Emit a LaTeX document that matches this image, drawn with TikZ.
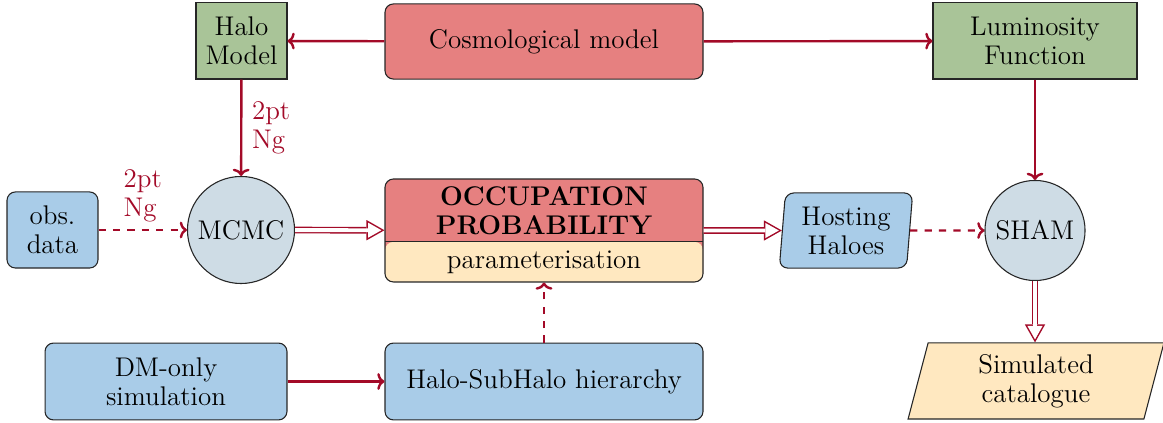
\documentclass[tikz,border=0pt]{standalone}
\usetikzlibrary{shapes.geometric,arrows.meta}
\definecolor{cred}{RGB}{230,128,128}
\definecolor{cgreen}{RGB}{169,196,152}
\definecolor{cblue}{RGB}{169,204,232}
\definecolor{ccirc}{RGB}{206,220,229}
\definecolor{cyel}{RGB}{255,232,192}
\definecolor{carrow}{RGB}{163,10,40}
\tikzset{
  box/.style={draw=black!85, line width=0.45pt, align=center, inner sep=2pt},
  rbox/.style={box, rounded corners=3.5pt},
  circ/.style={box, circle, fill=ccirc},
  arr/.style={draw=carrow, line width=1pt, -{To[length=3pt,width=7pt]}},
  darr/.style={draw=carrow, line width=2.8pt, -{Triangle[length=7.5pt,width=8.5pt,line width=0pt]},
    postaction={draw=white, line width=1.6pt, shorten >=1.25pt, -{Triangle[length=5.6pt,width=6.3pt,line width=0pt]}}},
  lbl/.style={text=carrow, align=left, inner sep=1pt},
}
\begin{document}
\fontsize{11.25}{12.1}\selectfont
\begin{tikzpicture}[x=0.416667pt,y=-0.416667pt]
\useasboundingbox (0,0) rectangle (1163,423);
% top row
\node[box, fill=cgreen, minimum width=37.9pt, minimum height=31.7pt] (halo) at (241.5,41) {Halo\\Model};
\node[rbox, fill=cred, minimum width=132.5pt, minimum height=31.3pt] (cosmo) at (544,41.5) {Cosmological model};
\node[box, fill=cgreen, minimum width=85pt, minimum height=31.7pt] (lum) at (1035,41) {Luminosity\\Function};
% middle row
\node[rbox, fill=cblue, minimum width=37.9pt, minimum height=31.7pt] (obs) at (52.5,230) {obs.\\data};
\node[circ, minimum size=44.6pt] (mcmc) at (241,230) {MCMC};
\node[rbox, fill=cred, minimum width=132.5pt, minimum height=42.9pt,
  path picture={\fill[cyel] ([yshift=16.7pt]path picture bounding box.south west) rectangle (path picture bounding box.south east);
  \draw[black!85, line width=0.45pt] ([yshift=16.7pt]path picture bounding box.south west) -- ([yshift=16.7pt]path picture bounding box.south east);}] (occ) at (544,230.5) {};
\node[align=center, font=\bfseries, inner sep=0pt] (occt) at (544,211) {OCCUPATION\\PROBABILITY};
\node[inner sep=0pt] (par) at (544,262) {parameterisation};
\node[box, fill=cblue, trapezium, trapezium left angle=85, trapezium right angle=95, trapezium stretches=true, rounded corners=3.5pt, minimum width=55.8pt, minimum height=31.3pt] (host) at (846,230.5) {Hosting\\Haloes};
\node[circ, minimum size=41.7pt] (sham) at (1035,230.5) {SHAM};
% bottom row
\node[rbox, fill=cblue, minimum width=100.8pt, minimum height=32pt] (dm) at (166,381.5) {DM-only\\simulation};
\node[rbox, fill=cblue, minimum width=132.5pt, minimum height=32pt] (hsh) at (544,381.5) {Halo-SubHalo hierarchy};
\node[box, fill=cyel, trapezium, trapezium left angle=79.6, trapezium right angle=100.4, trapezium stretches=true, minimum width=106.7pt, minimum height=31.7pt] (sim) at (1036,381) {Simulated\\catalogue};
% connectors
\draw[arr] (cosmo) -- (halo);
\draw[arr] (cosmo) -- (lum);
\draw[arr] (halo) -- node[lbl, right=3pt] {2pt\\Ng} (mcmc);
\draw[arr, dashed] (obs) -- node[lbl, above=2pt] {2pt\\Ng} (mcmc);
\draw[darr] (mcmc) -- (occ);
\draw[darr] (occ) -- (host);
\draw[arr, dashed] (host) -- (sham);
\draw[arr] (lum.south -| sham) -- (sham);
\draw[darr] (sham) -- (sim.north -| sham);
\draw[arr] (dm) -- (hsh);
\draw[arr, dashed] (hsh) -- (occ);
\end{tikzpicture}
\end{document}
